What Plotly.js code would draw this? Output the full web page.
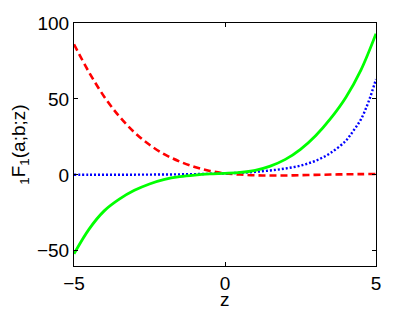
<!DOCTYPE html>
<html>
<head>
<meta charset="utf-8">
<script src="https://cdn.plot.ly/plotly-3.0.1.min.js"></script>
<style>html,body{margin:0;padding:0;background:#fff;}#chart{width:415px;height:312px;}</style>
</head>
<body>
<div id="chart"></div>
<script>
// z grid
const zGrid = [-5, -4.5, -4, -3.5, -3, -2.5, -2, -1.5, -1, -0.5, 0, 0.5, 1, 1.5, 2, 2.5, 3, 3.5, 4, 4.5, 5];
// red dashed curve
const redVals = [86, 67.5, 51.5, 38.5, 28, 19.8, 13.5, 8.8, 5.2, 2.6, 1.0, 0.2, -0.3, -0.4, -0.4, -0.2, 0, 0.2, 0.4, 0.5, 0.6];
// green solid curve
const greenVals = [-52, -35.7, -23.7, -16, -10.2, -6, -3, -1.2, -0.1, 0.6, 1, 1.6, 3.0, 5.8, 10.2, 16.8, 25.8, 37.2, 51, 69, 93];
// blue dotted curve
const blueZ = [-5, -4.5, -4, -3.5, -3, -2.5, -2, -1.5, -1, -0.5, 0, 0.5, 1, 1.5, 2, 2.5, 3, 3.5, 4, 4.25, 4.5, 4.75, 5];
const blueVals = [0.05, 0.06, 0.08, 0.1, 0.13, 0.18, 0.25, 0.35, 0.5, 0.7, 1, 1.4, 2.0, 2.9, 4.2, 6.1, 9.3, 14.5, 22.5, 29, 36.5, 48, 63];
// axis ticks
const xTicks = [-5, 0, 5];
const yTicks = [-50, 0, 50, 100];
const xTitle = 'z';
const yTitle = '<sub>1</sub>F<sub>1</sub>(a;b;z)';

const font = {family: 'Liberation Sans, Arial, Helvetica, sans-serif', size: 19, color: '#000'};

const traces = [
  {x: zGrid, y: redVals, type: 'scatter', mode: 'lines',
   line: {color: '#ff0000', width: 2.6, dash: '7px,4px', shape: 'spline', smoothing: 1}},
  {x: blueZ, y: blueVals, type: 'scatter', mode: 'lines',
   line: {color: '#0000ff', width: 2.4, dash: '2px,2px', shape: 'spline', smoothing: 1}},
  {x: zGrid, y: greenVals, type: 'scatter', mode: 'lines',
   line: {color: '#00ff00', width: 2.8, shape: 'spline', smoothing: 1}}
];

const plotTop = 23, plotBottom = 266;
const layout = {
  width: 415, height: 312,
  margin: {l: 74, r: 39, t: plotTop, b: 312 - plotBottom, pad: 0},
  paper_bgcolor: '#fff', plot_bgcolor: '#fff',
  showlegend: false,
  font: font,
  xaxis: {
    range: [-5, 5], tickvals: xTicks, ticktext: xTicks.map(v => v < 0 ? '\u2212' + Math.abs(v) : String(v)),
    ticks: 'inside', ticklen: 4, tickwidth: 1, tickcolor: '#000',
    showline: true, linecolor: '#000', linewidth: 1, mirror: 'ticks',
    showgrid: false, zeroline: false, tickfont: font
  },
  yaxis: {
    range: [-60, 100], tickvals: yTicks, ticktext: yTicks.map(v => v < 0 ? '\u2212' + Math.abs(v) : String(v)),
    ticks: 'inside', ticklen: 4, tickwidth: 1, tickcolor: '#000',
    showline: true, linecolor: '#000', linewidth: 1, mirror: 'ticks',
    showgrid: false, zeroline: false, tickfont: font,
    title: {text: yTitle, font: font, standoff: 6}
  },
  annotations: [
    {text: xTitle, xref: 'x', x: 0, yref: 'paper', y: (plotBottom - 299.5) / (plotBottom - plotTop),
     xanchor: 'center', yanchor: 'middle', showarrow: false, font: font, borderpad: 0}
  ]
};

Plotly.newPlot('chart', traces, layout, {displayModeBar: false, staticPlot: true});
</script>
</body>
</html>
